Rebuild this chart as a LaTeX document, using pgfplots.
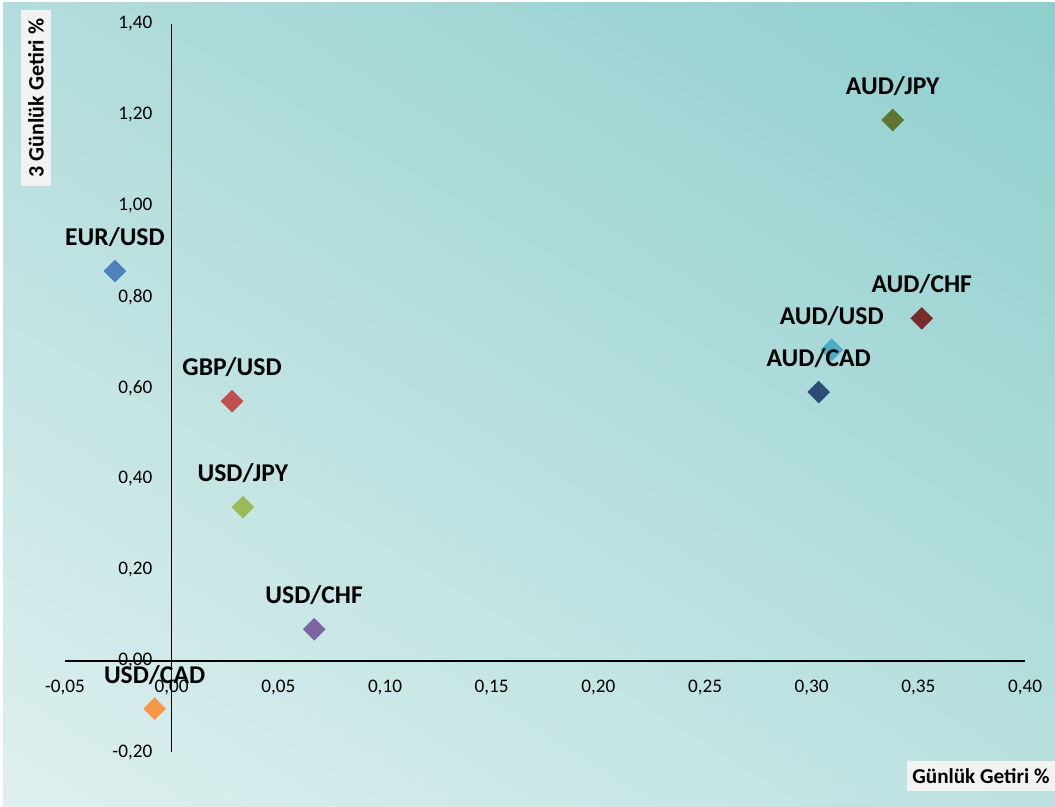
\documentclass[border=0pt]{standalone}
\usepackage{fontspec}
\setmainfont{Carlito}
\usepackage{pgfplots}
\pgfplotsset{compat=1.18}
\usetikzlibrary{shadings}
\definecolor{cEUR}{RGB}{79,129,189}
\definecolor{cGBP}{RGB}{192,80,77}
\definecolor{cJPY}{RGB}{155,187,89}
\definecolor{cCHF}{RGB}{128,100,162}
\definecolor{cAUS}{RGB}{75,172,198}
\definecolor{cCAD}{RGB}{247,150,70}
\definecolor{cACA}{RGB}{44,77,117}
\definecolor{cACH}{RGB}{119,44,42}
\definecolor{cAJP}{RGB}{95,117,48}
\definecolor{bgUL}{RGB}{178,221,220}
\definecolor{bgUR}{RGB}{142,207,206}
\definecolor{bgLL}{RGB}{222,240,239}
\definecolor{bgLR}{RGB}{186,225,224}
\definecolor{boxgray}{RGB}{242,242,242}
\begin{document}
\begin{tikzpicture}
\useasboundingbox (0,0) rectangle (527.5bp,403.5bp);
\fill[white] (0,0) rectangle (527.5bp,403.5bp);
\shade[upper left=bgUL, upper right=bgUR, lower left=bgLL, lower right=bgLR] (1.5bp,0) rectangle (527.5bp,402bp);
\begin{axis}[
  at={(32.5bp,27.5bp)}, anchor=south west,
  scale only axis, width=480bp, height=364bp,
  xmin=-0.05, xmax=0.40, ymin=-0.2, ymax=1.4,
  axis lines=middle,
  axis line style={-, line width=0.8bp, black},
  hide obscured x ticks=false, hide obscured y ticks=false,
  major tick length=0pt,
  xtick={-0.05,0,0.05,0.10,0.15,0.20,0.25,0.30,0.35,0.40},
  ytick={-0.2,0,0.2,0.4,0.6,0.8,1.0,1.2,1.4},
  /pgf/number format/fixed,
  /pgf/number format/fixed zerofill,
  /pgf/number format/precision=2,
  /pgf/number format/use comma,
  /pgf/number format/assume math mode=true,
  tick label style={font=\fontsize{9.6bp}{11bp}\selectfont},
  xticklabel style={anchor=center, inner sep=0pt, yshift=-13bp},
  yticklabel style={anchor=east, inner sep=0pt, xshift=-9.5bp},
  clip=false,
  only marks,
  mark=square*, mark size=3.8bp,
  nodes near coords align={center},
  every node near coord/.append style={yshift=17bp, text=black, font=\bfseries\fontsize{12.8bp}{14bp}\selectfont},
]
\addplot[cEUR, mark options={rotate=45, fill=cEUR, draw=cEUR}, nodes near coords={EUR/USD}] coordinates {(-0.0266,0.857)};
\addplot[cGBP, mark options={rotate=45, fill=cGBP, draw=cGBP}, nodes near coords={GBP/USD}] coordinates {(0.0283,0.571)};
\addplot[cJPY, mark options={rotate=45, fill=cJPY, draw=cJPY}, nodes near coords={USD/JPY}] coordinates {(0.0334,0.338)};
\addplot[cCHF, mark options={rotate=45, fill=cCHF, draw=cCHF}, nodes near coords={USD/CHF}] coordinates {(0.0668,0.0697)};
\addplot[cAUS, mark options={rotate=45, fill=cAUS, draw=cAUS}, nodes near coords={AUD/USD}] coordinates {(0.3094,0.684)};
\addplot[cCAD, mark options={rotate=45, fill=cCAD, draw=cCAD}, nodes near coords={USD/CAD}] coordinates {(-0.0080,-0.105)};
\addplot[cACA, mark options={rotate=45, fill=cACA, draw=cACA}, nodes near coords={AUD/CAD}] coordinates {(0.3033,0.591)};
\addplot[cACH, mark options={rotate=45, fill=cACH, draw=cACH}, nodes near coords={AUD/CHF}] coordinates {(0.3516,0.753)};
\addplot[cAJP, mark options={rotate=45, fill=cAJP, draw=cAJP}, nodes near coords={AUD/JPY}] coordinates {(0.338,1.189)};
\end{axis}
\node[fill=boxgray, rotate=90, inner xsep=4.5bp, inner ysep=3.5bp, font=\bfseries\fontsize{11bp}{12bp}\selectfont] at (18bp,354.5bp) {3 Günlük Getiri \%};
\node[fill=boxgray, anchor=east, inner xsep=2.5bp, inner ysep=3.5bp, font=\bfseries\fontsize{10.6bp}{12bp}\selectfont] at (527.5bp,15.5bp) {Günlük Getiri \%};
\end{tikzpicture}
\end{document}
